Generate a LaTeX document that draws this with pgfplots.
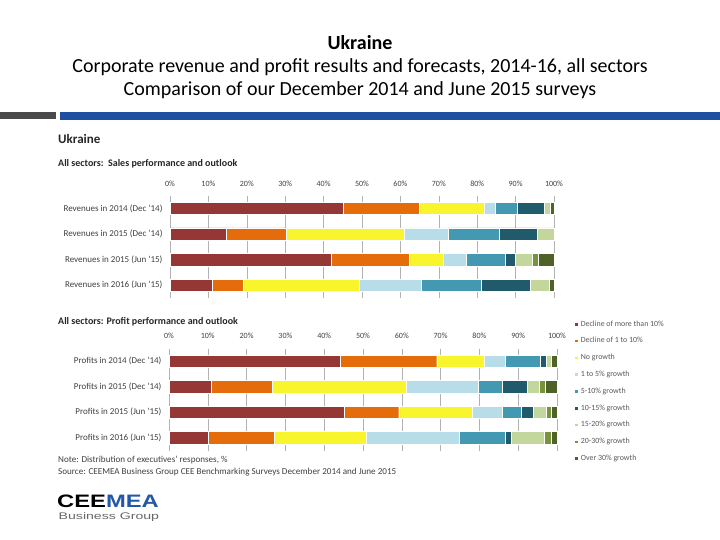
\documentclass[border=0pt]{standalone}
\usepackage{pgfplots}
\pgfplotsset{compat=1.18}
\usepackage{pgfplotstable}
\usepackage{fontspec}
\setmainfont{Carlito}
\newfontfamily\logofont{Liberation Sans}

\definecolor{c1}{HTML}{953735}
\definecolor{c2}{HTML}{E46C0A}
\definecolor{c3}{HTML}{F8F52C}
\definecolor{c4}{HTML}{B7DEE8}
\definecolor{c5}{HTML}{4398B2}
\definecolor{c6}{HTML}{215A6B}
\definecolor{c7}{HTML}{C3D69B}
\definecolor{c8}{HTML}{77933C}
\definecolor{c9}{HTML}{4F6228}
\definecolor{bandblue}{HTML}{1F4FA0}
\definecolor{bandgray}{HTML}{4A4A4A}
\definecolor{logoblue}{HTML}{2358A8}
\definecolor{txt}{HTML}{404040}

\pgfplotstableread{
y s1 s2 s3 s4 s5 s6 s7 s8 s9
0 45.0 19.8 17.0 3.0 5.5 7.1 1.6 0 1.0
1 14.6 15.7 30.6 11.6 13.2 10.0 4.3 0 0
2 42.0 20.2 9.0 5.8 10.2 2.8 4.4 1.5 4.1
3 11.0 8.0 30.3 16.0 15.8 12.6 5.0 0 1.3
}\rev

\pgfplotstableread{
y s1 s2 s3 s4 s5 s6 s7 s8 s9
0 44.1 24.9 12.2 5.5 9.0 1.4 1.4 0 1.5
1 10.9 15.6 34.6 18.7 6.1 6.4 3.2 1.5 3.0
2 45.2 14.0 19.0 7.7 4.8 3.1 3.3 1.4 1.5
3 10.0 17.0 23.9 23.8 11.9 1.6 8.5 1.7 1.6
}\prof

\pgfplotsset{
  stackstyle/.style={
    xbar stacked, scale only axis, anchor=north west,
    xmin=0, xmax=100, ymin=-0.5, ymax=3.5, y dir=reverse,
    axis line style={draw=none}, major tick length=0pt,
    xmajorgrids, grid style={color=black!30, line width=0.6pt},
    xtick={0,10,...,100}, xticklabel pos=upper,
    /pgf/number format/assume math mode=true,
    xticklabel={\pgfmathprintnumber{\tick}\%},
    xticklabel style={font=\fontsize{8}{9}\selectfont, text=txt, yshift=6pt},
    ytick={0,1,2,3},
    yticklabel style={font=\fontsize{9}{10}\selectfont, text=txt, xshift=-4pt},
    bar width=12.3pt, clip=false,
  },
  segs/.style={draw=white, line width=0.3pt}
}

\begin{document}
\begin{tikzpicture}
\useasboundingbox (0,0) rectangle (720pt,-540pt);
\fill[white] (0,0) rectangle (720pt,-540pt);

% Slide title
\node[anchor=base, inner sep=0, text=black] at (360pt,-49.5pt) {\fontsize{20}{24}\selectfont\bfseries Ukraine};
\node[anchor=base, inner sep=0, text=black] at (360pt,-72.5pt) {\fontsize{20}{24}\selectfont Corporate revenue and profit results and forecasts, 2014-16, all sectors};
\node[anchor=base, inner sep=0, text=black] at (360pt,-95.5pt) {\fontsize{20}{24}\selectfont Comparison of our December 2014 and June 2015 surveys};

% Band
\fill[bandgray] (0pt,-112.5pt) rectangle (56pt,-119.5pt);
\fill[bandblue] (60pt,-112.5pt) rectangle (720pt,-120pt);

% Chart headings
\node[anchor=base west, inner sep=0, text=black!85] at (58pt,-144pt) {\fontsize{13}{14}\selectfont\bfseries Ukraine};
\node[anchor=base west, inner sep=0, text=black!85] at (58pt,-166.5pt) {\fontsize{10}{11}\selectfont\bfseries All sectors:\ \ Sales performance and outlook};
\node[anchor=base west, inner sep=0, text=black!85] at (58pt,-324.5pt) {\fontsize{10}{11}\selectfont\bfseries All sectors: Profit performance and outlook};
\node[anchor=base west, inner sep=0, text=txt] at (58pt,-462pt) {\fontsize{9.1}{10}\selectfont Note: Distribution of executives' responses, \%};
\node[anchor=base west, inner sep=0, text=txt] at (58pt,-474pt) {\fontsize{9.1}{10}\selectfont Source: CEEMEA Business Group CEE Benchmarking Surveys December 2014 and June 2015};

% Sales chart
\begin{axis}[stackstyle, at={(170pt,-195.6pt)}, width=384pt, height=102.4pt,
  yticklabels={Revenues in 2014 (Dec '14), Revenues in 2015 (Dec '14), Revenues in 2015 (Jun '15), Revenues in 2016 (Jun '15)}]
\addplot[segs, fill=c1] table[x=s1,y=y]{\rev};
\addplot[segs, fill=c2] table[x=s2,y=y]{\rev};
\addplot[segs, fill=c3] table[x=s3,y=y]{\rev};
\addplot[segs, fill=c4] table[x=s4,y=y]{\rev};
\addplot[segs, fill=c5] table[x=s5,y=y]{\rev};
\addplot[segs, fill=c6] table[x=s6,y=y]{\rev};
\addplot[segs, fill=c7] table[x=s7,y=y]{\rev};
\addplot[segs, fill=c8] table[x=s8,y=y]{\rev};
\addplot[segs, fill=c9] table[x=s9,y=y]{\rev};
\end{axis}

% Profit chart
\begin{axis}[stackstyle, at={(169pt,-348.5pt)}, width=388pt, height=102pt,
  yticklabels={Profits in 2014 (Dec '14), Profits in 2015 (Dec '14), Profits in 2015 (Jun '15), Profits in 2016 (Jun '15)},
  legend cell align=left,
  legend image code/.code={\fill[#1] (0pt,-1.8pt) rectangle (3.6pt,1.8pt);},
  legend style={at={(1.045,1.279)}, anchor=north west, draw=none, fill=none,
    font=\fontsize{7.9}{8}\selectfont, text=black!65, inner sep=0pt, outer sep=0pt,
    row sep=8.8pt, column sep=1.5pt,
    nodes={inner sep=1pt, text height=5pt, text depth=1pt, anchor=west}}]
\addplot[segs, fill=c1] table[x=s1,y=y]{\prof};
\addlegendentry{Decline of more than 10\%}
\addplot[segs, fill=c2] table[x=s2,y=y]{\prof};
\addlegendentry{Decline of 1 to 10\%}
\addplot[segs, fill=c3] table[x=s3,y=y]{\prof};
\addlegendentry{No growth}
\addplot[segs, fill=c4] table[x=s4,y=y]{\prof};
\addlegendentry{1 to 5\% growth}
\addplot[segs, fill=c5] table[x=s5,y=y]{\prof};
\addlegendentry{5-10\% growth}
\addplot[segs, fill=c6] table[x=s6,y=y]{\prof};
\addlegendentry{10-15\% growth}
\addplot[segs, fill=c7] table[x=s7,y=y]{\prof};
\addlegendentry{15-20\% growth}
\addplot[segs, fill=c8] table[x=s8,y=y]{\prof};
\addlegendentry{20-30\% growth}
\addplot[segs, fill=c9] table[x=s9,y=y]{\prof};
\addlegendentry{Over 30\% growth}
\end{axis}

% Logo
\node[anchor=base west, inner sep=0] at (57pt,-507.5pt) {\scalebox{1.32}[1]{\logofont\bfseries\fontsize{18}{18}\selectfont CEE\textcolor{logoblue}{MEA}}};
\node[anchor=base west, inner sep=0, text=black!60] at (58.5pt,-519.5pt) {\scalebox{1.47}[1]{\logofont\fontsize{9.6}{10}\selectfont Business Group}};
\end{tikzpicture}
\end{document}
